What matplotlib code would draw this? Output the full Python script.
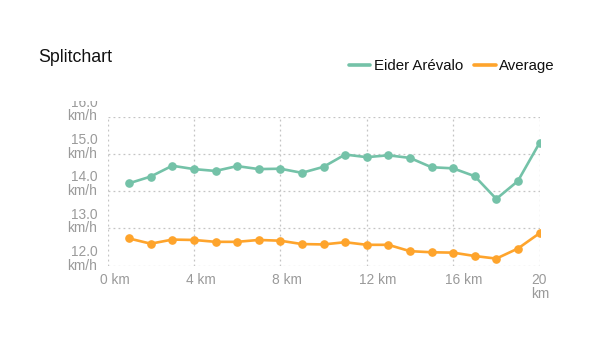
import matplotlib
matplotlib.use("Agg")
import matplotlib.pyplot as plt
import matplotlib.transforms as mtransforms
from matplotlib.transforms import Bbox

plt.rcParams['font.family'] = ['Liberation Sans', 'DejaVu Sans']

km = [1, 2, 3, 4, 5, 6, 7, 8, 9, 10, 11, 12, 13, 14, 15, 16, 17, 18, 19, 20]
eider = [14.21, 14.39, 14.68, 14.59, 14.54, 14.67, 14.59, 14.60, 14.49, 14.65,
         14.98, 14.91, 14.96, 14.89, 14.64, 14.61, 14.40, 13.79, 14.27, 15.29]
average = [12.73, 12.59, 12.70, 12.69, 12.64, 12.64, 12.69, 12.67, 12.58, 12.57,
           12.63, 12.56, 12.56, 12.39, 12.36, 12.35, 12.26, 12.19, 12.46, 12.87]
x_ticks = [0, 4, 8, 12, 16, 20]
x_labels = ["0 km", "4 km", "8 km", "12 km", "16 km", "20\nkm"]
y_ticks = [12, 13, 14, 15, 16]
y_labels = ["12.0\nkm/h", "13.0\nkm/h", "14.0\nkm/h", "15.0\nkm/h", "16.0\nkm/h"]

GREEN = "#74c2a8"
ORANGE = "#fea42c"
TICK = "#9a9a9a"
W, H = 589, 357

fig = plt.figure(figsize=(W / 100, H / 100), dpi=100)
left, right, top, bottom = 107.5, 539.5, 116.5, 265.7
ax = fig.add_axes([left / W, 1 - bottom / H, (right - left) / W, (bottom - top) / H])

ax.plot(km, eider, color=GREEN, lw=1.9, marker='o', ms=5.2, label="Eider Arévalo", zorder=3,
        solid_capstyle='round')
ax.plot(km, average, color=ORANGE, lw=1.9, marker='o', ms=5.2, label="Average", zorder=3,
        solid_capstyle='round')

ax.set_xlim(0, 20)
ax.set_ylim(12, 16)
for s in ax.spines.values():
    s.set_visible(False)
ax.set_xticks(x_ticks)
ax.set_yticks(y_ticks)
ax.tick_params(length=0, labelbottom=False, labelleft=False)
ax.grid(True, color="#c4c4c4", lw=0.9, ls=(0, (1.5, 2.5)))
ax.set_axisbelow(True)

# y labels
ytrans = mtransforms.blended_transform_factory(ax.transAxes, ax.transData)
clip = Bbox.from_extents(0, 0, W, H - 101)
for v, lab in zip(y_ticks, y_labels):
    off = mtransforms.ScaledTranslation(-10 / 100, -7.0 / 100, fig.dpi_scale_trans)
    t = ax.text(0, v, lab, transform=ytrans + off, ha='right', va='bottom',
                fontsize=9.9, color=TICK, linespacing=0.98, multialignment='right')
    t.set_clip_box(clip)
    t.set_clip_on(True)

# x labels
xtrans = mtransforms.blended_transform_factory(ax.transData, ax.transAxes)
for v, lab in zip(x_ticks, x_labels):
    off = mtransforms.ScaledTranslation(-8 / 100, -7.5 / 100, fig.dpi_scale_trans)
    ax.text(v, 0, lab, transform=xtrans + off, ha='left', va='top',
            fontsize=9.9, color=TICK, linespacing=0.98, multialignment='left')

fig.text(38 / W, 1 - 57.5 / H, "Splitchart", fontsize=12.8, color="#111111",
         ha='left', va='center')

leg = fig.legend(loc='center right', bbox_to_anchor=(555 / W, 1 - 66 / H), ncol=2,
                 frameon=False, fontsize=10.8, handlelength=1.45, handletextpad=0.25,
                 columnspacing=0.7, borderpad=0, borderaxespad=0)
for h in leg.get_lines():
    h.set_marker('')
    h.set_linewidth(2.6)
for t in leg.get_texts():
    t.set_color("#111111")

fig.savefig("out.png", dpi=100)
